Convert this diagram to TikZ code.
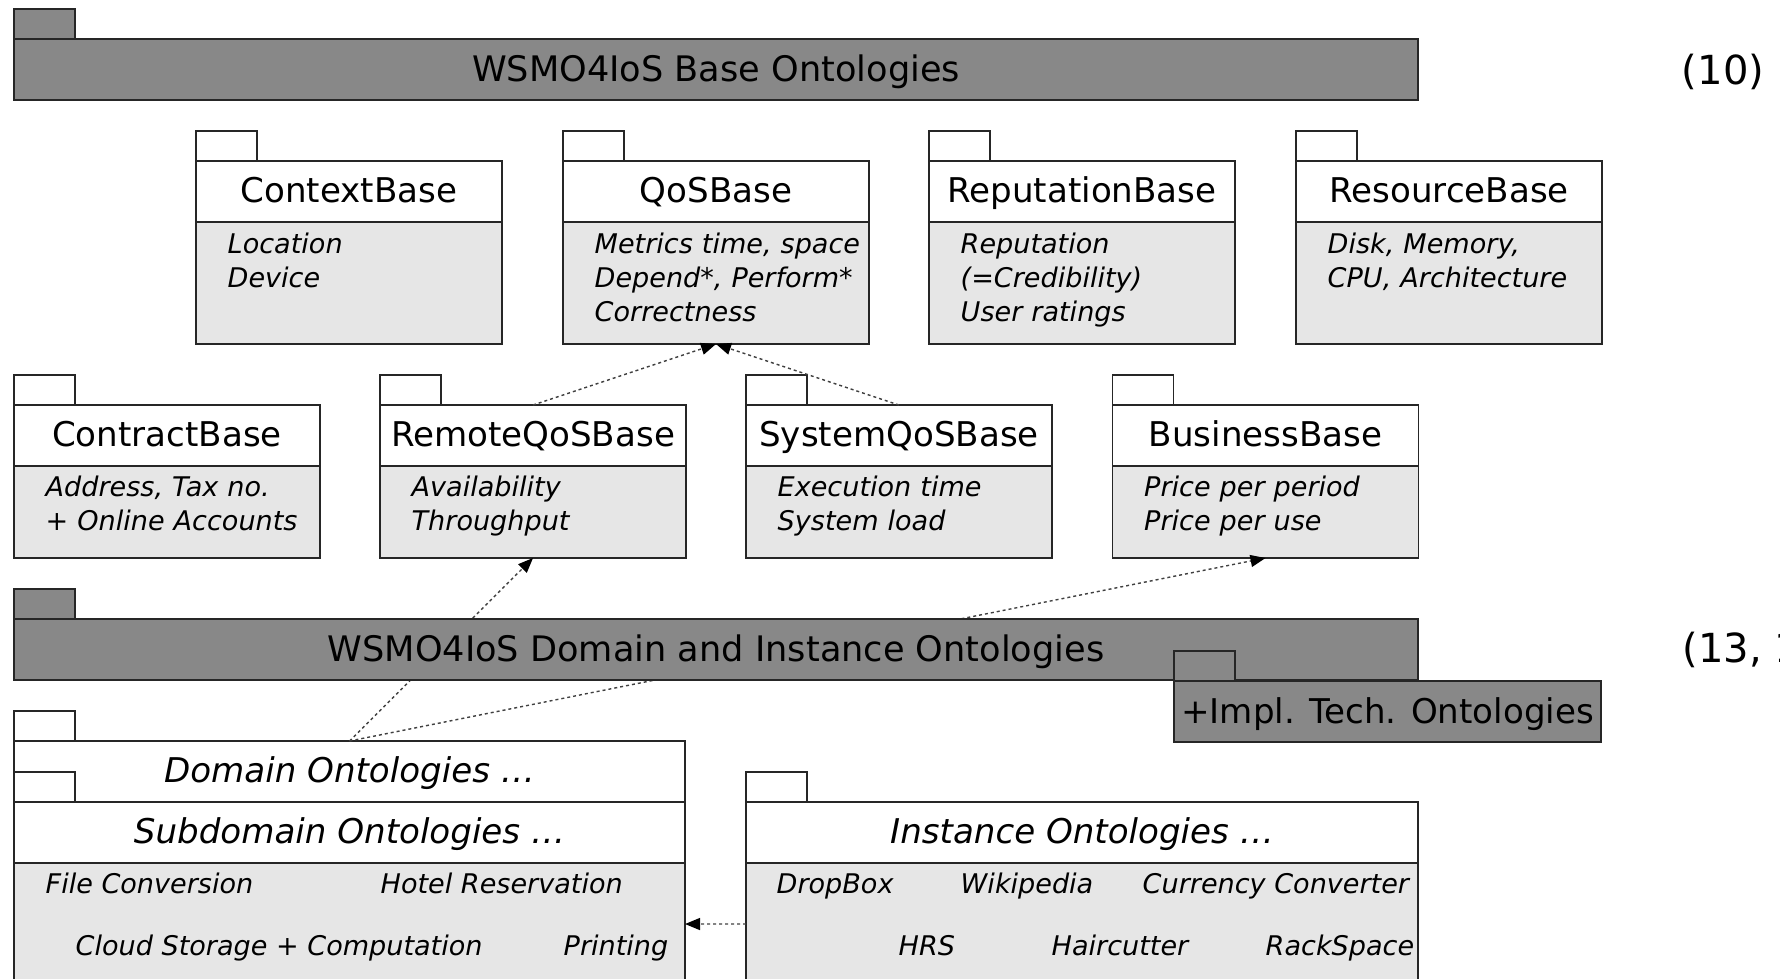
\documentclass[tikz,border=0pt]{standalone}
\usepackage{fontspec}
\setmainfont{DejaVu Sans}
\usetikzlibrary{positioning,arrows.meta}
\definecolor{bargray}{HTML}{888888}
\definecolor{bodygray}{HTML}{E6E6E6}
\tikzset{
  pkghead/.style={draw=black!85, fill=white, anchor=north west, minimum width=30.6mm,
    minimum height=6.1mm, inner sep=0pt, outer sep=0pt, text height=8pt, text depth=1.6pt,
    font=\fontsize{9.7}{11}\selectfont},
  headit/.style={font=\fontsize{9.7}{11}\selectfont\itshape},
  pkgtab/.style={draw=black!85, fill=white, minimum width=6.1mm, minimum height=3mm,
    inner sep=0pt, outer sep=0pt},
  pkgbody/.style={draw=black!85, fill=bodygray, minimum width=30.6mm, inner sep=0pt, outer sep=0pt},
  pkgtext/.style={anchor=base west, inner sep=0pt, text width=27mm, align=left,
    font=\fontsize{7.7}{9.8}\selectfont\itshape},
  pkgitem/.style={anchor=base west, inner sep=0pt, font=\fontsize{7.7}{9.8}\selectfont\itshape},
  ontobar/.style={pkghead, fill=bargray, minimum width=140.4mm, text height=8.2pt, text depth=1.4pt,
    font=\fontsize{10}{12}\selectfont},
  nrlabel/.style={inner sep=0pt, font=\fontsize{11.4}{13}\selectfont},
  dep/.style={draw=black!75, line width=0.4pt, dash pattern=on 0.3mm off 0.3mm,
    -{Triangle[length=1.5mm, width=1.2mm, color=black]}}
}
\begin{document}
\begin{tikzpicture}[x=1mm, y=-1mm]
  \useasboundingbox (0,0) rectangle (178,97.8);
  \clip (0,0) rectangle (178,97.8);
  % base ontologies
  \node[ontobar] (base) at (1.4,3.9) {WSMO4IoS Base Ontologies};
  \node[pkgtab, fill=bargray, above right=0pt and 0pt of base.north west] (base-tab) {};
  \node[nrlabel] (n10) at (172.3,7.2) {(10)};
  \foreach \n/\x/\ttl/\lines in {ctx/19.6/ContextBase/{Location\\Device},
      qos/56.3/QoSBase/{Metrics time, space\\Depend*, Perform*\\Correctness},
      rep/92.9/ReputationBase/{Reputation\\(=Credibility)\\User ratings},
      res/129.6/ResourceBase/{Disk, Memory,\\CPU, Architecture}}{
    \node[pkghead] (\n) at (\x,16.1) {\ttl};
    \node[pkgtab, above right=0pt and 0pt of \n.north west] (\n-tab) {};
    \node[pkgbody, minimum height=12.2mm, below=0pt of \n] (\n-body) {};
    \node[pkgtext] (\n-text) at ([shift={(3.1,3.1)}]\n-body.north west) {\lines};
  }
  \foreach \n/\x/\ttl/\lines in {con/1.4/ContractBase/{Address, Tax no.\\+ Online Accounts},
      rqos/38.0/RemoteQoSBase/{Availability\\Throughput},
      sqos/74.6/SystemQoSBase/{Execution time\\System load},
      biz/111.25/BusinessBase/{Price per period\\Price per use}}{
    \node[pkghead] (\n) at (\x,40.5) {\ttl};
    \node[pkgtab, above right=0pt and 0pt of \n.north west] (\n-tab) {};
    \node[pkgbody, minimum height=9.2mm, below=0pt of \n] (\n-body) {};
    \node[pkgtext] (\n-text) at ([shift={(3.1,3.0)}]\n-body.north west) {\lines};
  }
  % domain and instance ontologies
  \node[pkghead, headit, minimum width=67.1mm] (dom) at (1.4,74.1) {Domain Ontologies …};
  \node[pkgtab, above right=0pt and 0pt of dom.north west] (dom-tab) {};
  \node[pkghead, headit, minimum width=67.1mm, below=0pt of dom] (sub) {Subdomain Ontologies …};
  \node[pkgtab, above right=0pt and 0pt of sub.north west] (sub-tab) {};
  \node[pkgbody, minimum width=67.1mm, minimum height=12.2mm, below=0pt of sub] (sub-body) {};
  \node[pkgitem] (fconv) at ([shift={(3.1,3.0)}]sub-body.north west) {File Conversion};
  \node[pkgitem] (hotel) at ([shift={(36.6,3.0)}]sub-body.north west) {Hotel Reservation};
  \node[pkgitem] (cloud) at ([shift={(6.1,9.2)}]sub-body.north west) {Cloud Storage + Computation};
  \node[pkgitem] (print) at ([shift={(54.9,9.2)}]sub-body.north west) {Printing};
  \node[pkghead, headit, minimum width=67.2mm] (inst) at (74.6,80.2) {Instance Ontologies …};
  \node[pkgtab, above right=0pt and 0pt of inst.north west] (inst-tab) {};
  \node[pkgbody, minimum width=67.2mm, minimum height=12.2mm, below=0pt of inst] (inst-body) {};
  \node[pkgitem] (drop) at ([shift={(3.0,3.0)}]inst-body.north west) {DropBox};
  \node[pkgitem] (wiki) at ([shift={(21.4,3.0)}]inst-body.north west) {Wikipedia};
  \node[pkgitem] (curr) at ([shift={(39.6,3.0)}]inst-body.north west) {Currency Converter};
  \node[pkgitem] (hrs) at ([shift={(15.2,9.2)}]inst-body.north west) {HRS};
  \node[pkgitem] (hair) at ([shift={(30.5,9.2)}]inst-body.north west) {Haircutter};
  \node[pkgitem] (rack) at ([shift={(51.9,9.2)}]inst-body.north west) {RackSpace};
  % dependencies
  \draw[dep] (rqos.north) -- (qos-body.south);
  \draw[dep] (sqos.north) -- (qos-body.south);
  \draw[dep] (dom.north) -- (rqos-body.south);
  \draw[dep] (dom.north) -- (biz-body.south);
  \draw[dep] (inst-body.west) -- (sub-body.east);
  % bar over the lines
  \node[ontobar] (dio) at (1.4,61.9) {WSMO4IoS Domain and Instance Ontologies};
  \node[pkgtab, fill=bargray, above right=0pt and 0pt of dio.north west] (dio-tab) {};
  \node[ontobar, minimum width=42.7mm, font=\fontsize{9.7}{11}\selectfont] (impl) at (117.4,68.1) {+Impl. Tech. Ontologies};
  \node[pkgtab, fill=bargray, above right=0pt and 0pt of impl.north west] (impl-tab) {};
  \node[nrlabel, anchor=west] (n13) at (168.2,65.0) {(13, 14)};
\end{tikzpicture}
\end{document}
